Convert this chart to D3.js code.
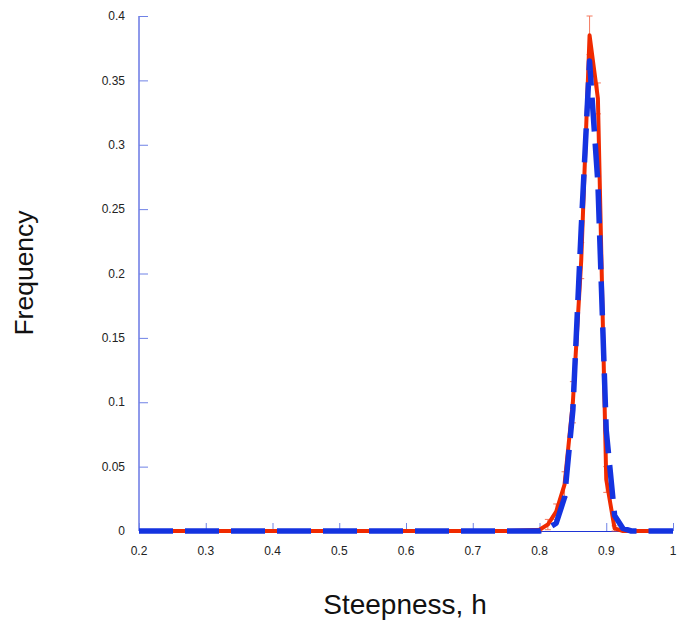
<!DOCTYPE html>
<html>
<head>
<meta charset="utf-8">
<script src="https://cdn.jsdelivr.net/npm/d3@7"></script>
<style>
  body { margin: 0; background: #fff; }
  svg { display: block; font-family: "Liberation Sans", Arial, sans-serif; }
</style>
</head>
<body>
<div id="chart"></div>
<script>
// steepness bins (x) and the two frequency curves
var steepness = [0.2, 0.3, 0.4, 0.5, 0.6, 0.7, 0.75, 0.8, 0.8125, 0.825, 0.8375, 0.85, 0.8625,
                 0.875, 0.8875, 0.9, 0.9125, 0.925, 0.9375, 0.95, 0.975, 1.0];
var redFreq  = [0, 0, 0, 0, 0, 0, 0, 0.001, 0.005, 0.015, 0.036, 0.10, 0.21,
                0.385, 0.336, 0.04, 0.002, 0, 0, 0, 0, 0];
var redErr   = [0, 0, 0, 0, 0, 0, 0, 0.001, 0.004, 0.006, 0.01, 0.016, 0.014,
                0.015, 0.012, 0.01, 0.002, 0, 0, 0, 0, 0];
var blueFreq = [0, 0, 0, 0, 0, 0, 0, 0, 0.002, 0.006, 0.026, 0.094, 0.235,
                0.365, 0.27, 0.078, 0.012, 0.002, 0, 0, 0, 0];
var xTicks = [0.2, 0.3, 0.4, 0.5, 0.6, 0.7, 0.8, 0.9, 1];
var yTicks = [0, 0.05, 0.1, 0.15, 0.2, 0.25, 0.3, 0.35, 0.4];

var width = 680, height = 629;
var svg = d3.select("#chart").append("svg")
    .attr("width", width)
    .attr("height", height);

var x = d3.scaleLinear().domain([0.2, 1]).range([139, 673]);
var y = d3.scaleLinear().domain([0, 0.4]).range([531, 16]);

var axisColor = "#1f35d6";
var tickColor = "#6f82e6";

// y axis line + ticks (pointing into the plot)
svg.append("line")
    .attr("x1", x(0.2)).attr("x2", x(0.2))
    .attr("y1", y(0)).attr("y2", y(0.4))
    .attr("stroke", axisColor).attr("stroke-width", 1);
svg.selectAll(".ytick").data(yTicks).enter().append("line")
    .attr("x1", x(0.2)).attr("x2", x(0.2) + 9)
    .attr("y1", function (d) { return y(d) + 0.5; })
    .attr("y2", function (d) { return y(d) + 0.5; })
    .attr("stroke", tickColor).attr("stroke-width", 1);
svg.selectAll(".ylab").data(yTicks).enter().append("text")
    .attr("x", 125)
    .attr("y", function (d) { return y(d); })
    .attr("dy", "0.35em")
    .attr("text-anchor", "end")
    .attr("font-size", 12)
    .attr("fill", "#222")
    .text(function (d) { return d3.format("")(d); });

// x axis line + ticks (pointing up)
svg.append("line")
    .attr("x1", x(0.2)).attr("x2", x(1))
    .attr("y1", y(0) + 0.5).attr("y2", y(0) + 0.5)
    .attr("stroke", axisColor).attr("stroke-width", 1);
svg.selectAll(".xtick").data(xTicks).enter().append("line")
    .attr("x1", function (d) { return x(d) + 0.5; })
    .attr("x2", function (d) { return x(d) + 0.5; })
    .attr("y1", y(0)).attr("y2", y(0) - 8)
    .attr("stroke", tickColor).attr("stroke-width", 1);
svg.selectAll(".xlab").data(xTicks).enter().append("text")
    .attr("x", function (d) { return x(d); })
    .attr("y", 555)
    .attr("text-anchor", "middle")
    .attr("font-size", 12)
    .attr("fill", "#222")
    .text(function (d) { return d3.format("")(d); });

// axis titles
svg.append("text")
    .attr("x", 405).attr("y", 614)
    .attr("text-anchor", "middle")
    .attr("font-size", 28)
    .attr("fill", "#111")
    .text("Steepness, h");
svg.append("text")
    .attr("transform", "translate(33,273) rotate(-90)")
    .attr("text-anchor", "middle")
    .attr("font-size", 26.5)
    .attr("fill", "#111")
    .text("Frequency");

var line = d3.line()
    .x(function (d) { return x(d[0]); })
    .y(function (d) { return y(d[1]); });

var redPts = steepness.map(function (s, i) { return [s, redFreq[i], redErr[i]]; });
var bluePts = steepness.map(function (s, i) { return [s, blueFreq[i]]; });

// red error bars
var eb = svg.append("g").attr("stroke", "#f25a3a").attr("stroke-width", 1).attr("opacity", 0.8);
redPts.filter(function (d) { return d[2] > 0; }).forEach(function (d) {
    var cx = x(d[0]);
    eb.append("line").attr("x1", cx).attr("x2", cx)
        .attr("y1", y(d[1] - d[2])).attr("y2", y(d[1] + d[2]));
    eb.append("line").attr("x1", cx - 3).attr("x2", cx + 3)
        .attr("y1", y(d[1] - d[2])).attr("y2", y(d[1] - d[2]));
    eb.append("line").attr("x1", cx - 3).attr("x2", cx + 3)
        .attr("y1", y(d[1] + d[2])).attr("y2", y(d[1] + d[2]));
});

// red solid curve
svg.append("path")
    .datum(redPts)
    .attr("d", line)
    .attr("fill", "none")
    .attr("stroke", "#f02a00")
    .attr("stroke-width", 4)
    .attr("stroke-linejoin", "round");

// blue dashed curve
svg.append("path")
    .datum(bluePts)
    .attr("d", line)
    .attr("fill", "none")
    .attr("stroke", "#1433e0")
    .attr("stroke-width", 5.5)
    .attr("stroke-dasharray", "34,12")
    .attr("stroke-linejoin", "round");
</script>
</body>
</html>
